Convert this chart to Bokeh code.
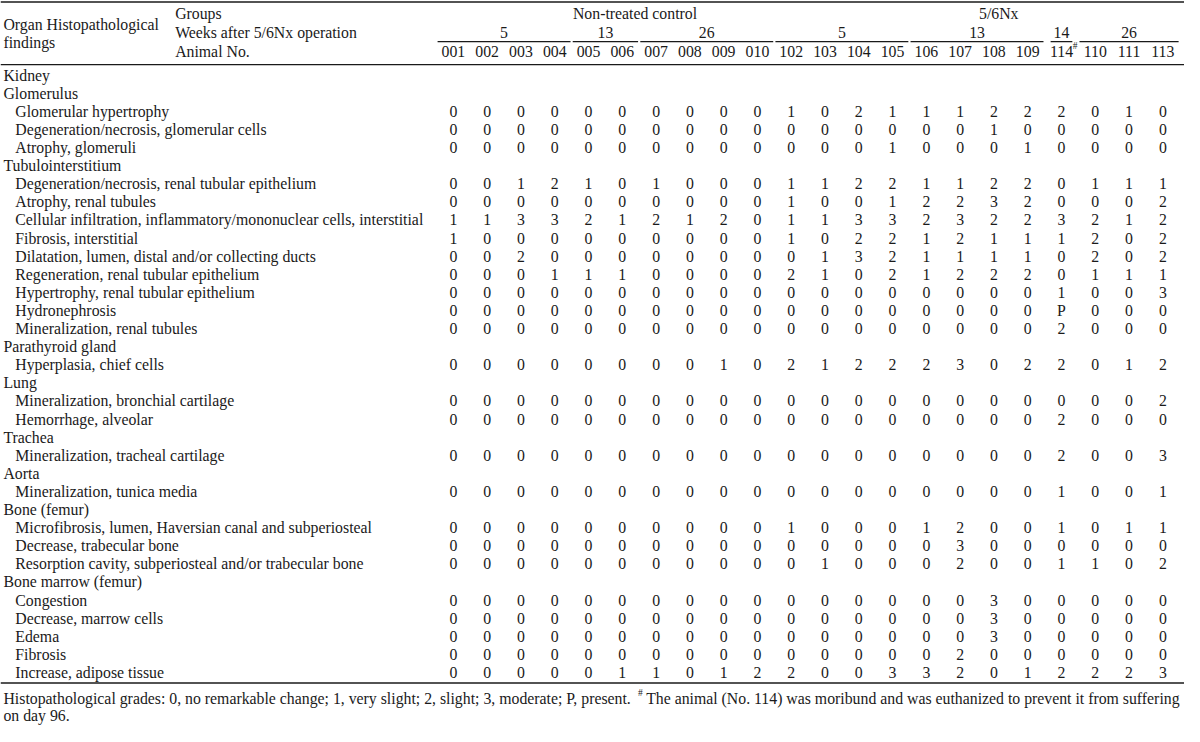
from bokeh.plotting import figure
from bokeh.models import Range1d, ColumnDataSource
from bokeh.embed import file_html
from bokeh.resources import INLINE
from bokeh.core.properties import value

# ---------------- data ----------------
animals = ["001", "002", "003", "004", "005", "006", "007", "008", "009", "010",
           "102", "103", "104", "105", "106", "107", "108", "109", "114", "110", "111", "113"]
weeks = [5, 5, 5, 5, 13, 13, 26, 26, 26, 26,
         5, 5, 5, 5, 13, 13, 13, 13, 14, 26, 26, 26]
groups = ["Non-treated control"] * 10 + ["5/6Nx"] * 12
moribund_animal = "114"

glomerular_hypertrophy = [0, 0, 0, 0, 0, 0, 0, 0, 0, 0, 1, 0, 2, 1, 1, 1, 2, 2, 2, 0, 1, 0]
degeneration_glomerular = [0, 0, 0, 0, 0, 0, 0, 0, 0, 0, 0, 0, 0, 0, 0, 0, 1, 0, 0, 0, 0, 0]
atrophy_glomeruli = [0, 0, 0, 0, 0, 0, 0, 0, 0, 0, 0, 0, 0, 1, 0, 0, 0, 1, 0, 0, 0, 0]
degeneration_tubular = [0, 0, 1, 2, 1, 0, 1, 0, 0, 0, 1, 1, 2, 2, 1, 1, 2, 2, 0, 1, 1, 1]
atrophy_tubules = [0, 0, 0, 0, 0, 0, 0, 0, 0, 0, 1, 0, 0, 1, 2, 2, 3, 2, 0, 0, 0, 2]
cellular_infiltration = [1, 1, 3, 3, 2, 1, 2, 1, 2, 0, 1, 1, 3, 3, 2, 3, 2, 2, 3, 2, 1, 2]
fibrosis_interstitial = [1, 0, 0, 0, 0, 0, 0, 0, 0, 0, 1, 0, 2, 2, 1, 2, 1, 1, 1, 2, 0, 2]
dilatation_ducts = [0, 0, 2, 0, 0, 0, 0, 0, 0, 0, 0, 1, 3, 2, 1, 1, 1, 1, 0, 2, 0, 2]
regeneration_tubular = [0, 0, 0, 1, 1, 1, 0, 0, 0, 0, 2, 1, 0, 2, 1, 2, 2, 2, 0, 1, 1, 1]
hypertrophy_tubular = [0, 0, 0, 0, 0, 0, 0, 0, 0, 0, 0, 0, 0, 0, 0, 0, 0, 0, 1, 0, 0, 3]
hydronephrosis = [0, 0, 0, 0, 0, 0, 0, 0, 0, 0, 0, 0, 0, 0, 0, 0, 0, 0, "P", 0, 0, 0]
mineralization_tubules = [0, 0, 0, 0, 0, 0, 0, 0, 0, 0, 0, 0, 0, 0, 0, 0, 0, 0, 2, 0, 0, 0]
hyperplasia_chief = [0, 0, 0, 0, 0, 0, 0, 0, 1, 0, 2, 1, 2, 2, 2, 3, 0, 2, 2, 0, 1, 2]
mineralization_bronchial = [0, 0, 0, 0, 0, 0, 0, 0, 0, 0, 0, 0, 0, 0, 0, 0, 0, 0, 0, 0, 0, 2]
hemorrhage_alveolar = [0, 0, 0, 0, 0, 0, 0, 0, 0, 0, 0, 0, 0, 0, 0, 0, 0, 0, 2, 0, 0, 0]
mineralization_tracheal = [0, 0, 0, 0, 0, 0, 0, 0, 0, 0, 0, 0, 0, 0, 0, 0, 0, 0, 2, 0, 0, 3]
mineralization_tunica = [0, 0, 0, 0, 0, 0, 0, 0, 0, 0, 0, 0, 0, 0, 0, 0, 0, 0, 1, 0, 0, 1]
microfibrosis = [0, 0, 0, 0, 0, 0, 0, 0, 0, 0, 1, 0, 0, 0, 1, 2, 0, 0, 1, 0, 1, 1]
decrease_trabecular = [0, 0, 0, 0, 0, 0, 0, 0, 0, 0, 0, 0, 0, 0, 0, 3, 0, 0, 0, 0, 0, 0]
resorption_cavity = [0, 0, 0, 0, 0, 0, 0, 0, 0, 0, 0, 1, 0, 0, 0, 2, 0, 0, 1, 1, 0, 2]
congestion = [0, 0, 0, 0, 0, 0, 0, 0, 0, 0, 0, 0, 0, 0, 0, 0, 3, 0, 0, 0, 0, 0]
decrease_marrow = [0, 0, 0, 0, 0, 0, 0, 0, 0, 0, 0, 0, 0, 0, 0, 0, 3, 0, 0, 0, 0, 0]
edema = [0, 0, 0, 0, 0, 0, 0, 0, 0, 0, 0, 0, 0, 0, 0, 0, 3, 0, 0, 0, 0, 0]
fibrosis_marrow = [0, 0, 0, 0, 0, 0, 0, 0, 0, 0, 0, 0, 0, 0, 0, 2, 0, 0, 0, 0, 0, 0]
increase_adipose = [0, 0, 0, 0, 0, 1, 1, 0, 1, 2, 2, 0, 0, 3, 3, 2, 0, 1, 2, 2, 2, 3]

# (label, grades) -- grades None => organ / tissue heading
rows = [
    ("Kidney", None),
    ("Glomerulus", None),
    ("Glomerular hypertrophy", glomerular_hypertrophy),
    ("Degeneration/necrosis, glomerular cells", degeneration_glomerular),
    ("Atrophy, glomeruli", atrophy_glomeruli),
    ("Tubulointerstitium", None),
    ("Degeneration/necrosis, renal tubular epithelium", degeneration_tubular),
    ("Atrophy, renal tubules", atrophy_tubules),
    ("Cellular infiltration, inflammatory/mononuclear cells, interstitial", cellular_infiltration),
    ("Fibrosis, interstitial", fibrosis_interstitial),
    ("Dilatation, lumen, distal and/or collecting ducts", dilatation_ducts),
    ("Regeneration, renal tubular epithelium", regeneration_tubular),
    ("Hypertrophy, renal tubular epithelium", hypertrophy_tubular),
    ("Hydronephrosis", hydronephrosis),
    ("Mineralization, renal tubules", mineralization_tubules),
    ("Parathyroid gland", None),
    ("Hyperplasia, chief cells", hyperplasia_chief),
    ("Lung", None),
    ("Mineralization, bronchial cartilage", mineralization_bronchial),
    ("Hemorrhage, alveolar", hemorrhage_alveolar),
    ("Trachea", None),
    ("Mineralization, tracheal cartilage", mineralization_tracheal),
    ("Aorta", None),
    ("Mineralization, tunica media", mineralization_tunica),
    ("Bone (femur)", None),
    ("Microfibrosis, lumen, Haversian canal and subperiosteal", microfibrosis),
    ("Decrease, trabecular bone", decrease_trabecular),
    ("Resorption cavity, subperiosteal and/or trabecular bone", resorption_cavity),
    ("Bone marrow (femur)", None),
    ("Congestion", congestion),
    ("Decrease, marrow cells", decrease_marrow),
    ("Edema", edema),
    ("Fibrosis", fibrosis_marrow),
    ("Increase, adipose tissue", increase_adipose),
]

footnote_1 = "Histopathological grades: 0, no remarkable change; 1, very slight; 2, slight; 3, moderate; P, present."
footnote_2 = "The animal (No. 114) was moribund and was euthanized to prevent it from suffering"
footnote_3 = "on day 96."

# ---------------- layout ----------------
W, H = 1200, 742
FONT = value("Liberation Serif")
FS = value("15.8px")
SUP = value("9.5px")
INK = "#1a1a1a"

col_x0, col_dx = 459.0, 34.24
row_y0, row_dy = 76.3, 18.5
xs = [col_x0 + col_dx * i for i in range(len(animals))]

p = figure(width=1184, height=726, x_range=Range1d(0, W), y_range=Range1d(H, 0),
           output_backend="svg", toolbar_location=None, min_border=0)
p.axis.visible = False
p.grid.visible = False
p.outline_line_color = None
p.background_fill_color = "white"
p.border_fill_color = "white"

def add_text(xv, yv, tv, align="left", size=FS):
    src = ColumnDataSource(dict(x=xv, y=yv, t=tv))
    p.text(x="x", y="y", text="t", source=src, text_font=FONT, text_font_size=size,
           text_align=align, text_baseline="middle", text_color=INK)

# row labels
lab_x, lab_y, lab_t = [], [], []
val_x, val_y, val_t = [], [], []
for i, (label, grades) in enumerate(rows):
    y = row_y0 + row_dy * i
    lab_x.append(3 if grades is None else 15)
    lab_y.append(y)
    lab_t.append(label)
    if grades is not None:
        for x, g in zip(xs, grades):
            val_x.append(x)
            val_y.append(y)
            val_t.append(str(g))
add_text(lab_x, lab_y, lab_t)
add_text(val_x, val_y, val_t, align="center")

# header left
add_text([3, 3], [25, 43], ["Organ  Histopathological", "findings"])
add_text([177, 177, 177], [13, 33, 52], ["Groups", "Weeks after 5/6Nx operation", "Animal No."])

# animal numbers
add_text(xs, [52] * len(xs), animals, align="center")
mi = animals.index(moribund_animal)
add_text([xs[mi] + 11.5], [46], ["#"], size=SUP)

# treatment groups (contiguous runs)
def runs(keys):
    out = []
    start = 0
    for i in range(1, len(keys) + 1):
        if i == len(keys) or keys[i] != keys[start]:
            out.append((start, i - 1))
            start = i
    return out

g_x, g_t = [], []
for (a, b), off in zip(runs(groups), [30, 22]):
    g_x.append((xs[a] + xs[b]) / 2 + off)
    g_t.append(groups[a])
add_text(g_x, [13] * len(g_x), g_t, align="center")

wk_keys = list(zip(groups, weeks))
w_x, w_t, u_x0, u_x1 = [], [], [], []
for a, b in runs(wk_keys):
    pad = 16 if b > a else 11
    x0, x1 = xs[a] - pad, xs[b] + pad
    u_x0.append(x0)
    u_x1.append(x1)
    w_x.append((x0 + x1) / 2)
    w_t.append(str(weeks[a]))
add_text(w_x, [33] * len(w_x), w_t, align="center")
p.segment(x0=u_x0, y0=[42] * len(u_x0), x1=u_x1, y1=[42] * len(u_x0),
          line_color=INK, line_width=1.1)

# horizontal rules
p.segment(x0=[0, 0, 0], y0=[1.5, 65.5, 697.5], x1=[W, W, W], y1=[1.5, 65.5, 697.5],
          line_color=INK, line_width=1.4)

# footnote
add_text([3], [713], [footnote_1])
add_text([646], [708], ["#"], size=SUP)
add_text([1195], [713], [footnote_2], align="right")
add_text([3], [731], [footnote_3])

open("out.html", "w").write(file_html(p, INLINE))
